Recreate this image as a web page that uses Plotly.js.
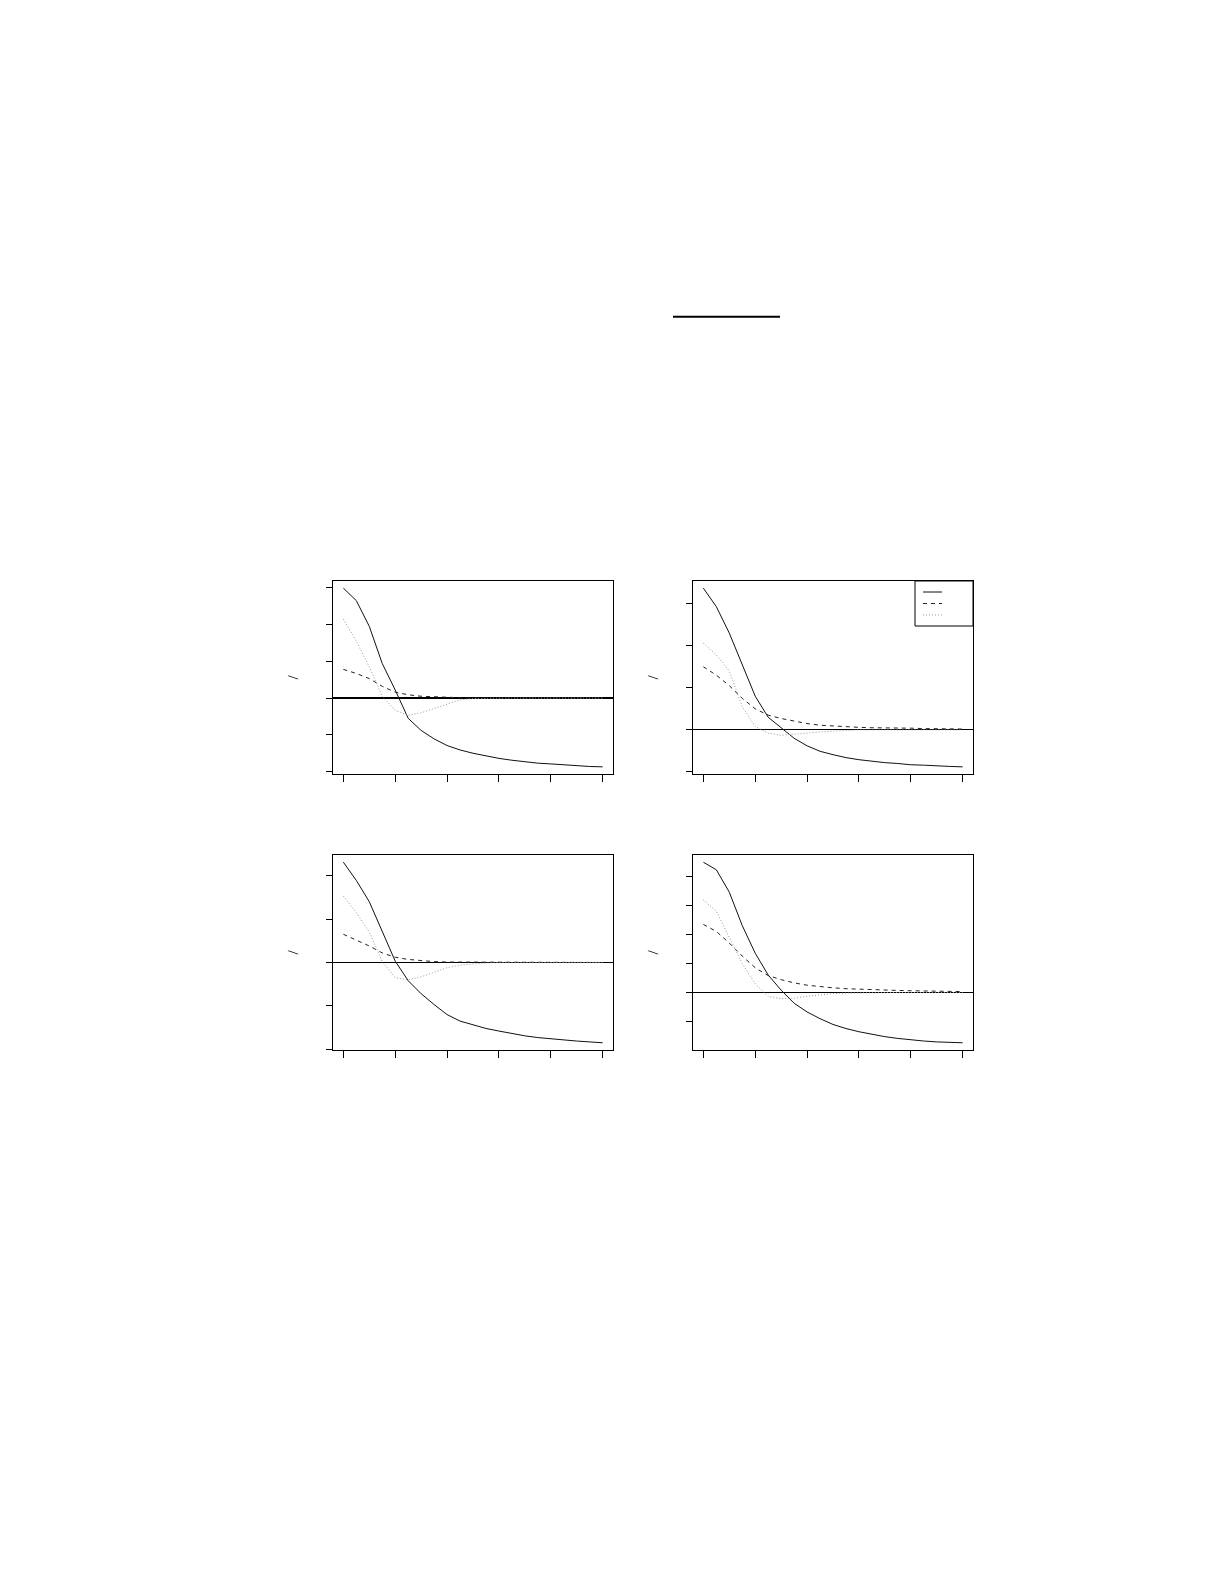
<!DOCTYPE html>
<html><head><meta charset="utf-8">
<script src="https://cdn.plot.ly/plotly-3.0.1.min.js"></script>
<style>body{margin:0;background:#fff} #plot{width:1225px;height:1585px}</style>
</head><body><div id="plot"></div>
<script>
// x positions shared by the four panels
lag=[0,5,10,15,20,25,30,35,40,45,50,55,60,65,70,75,80,85,90,95,100]
xticks=[0,20,40,60,80,100]

// panel a (top left)
a_solid=[2.99,2.65,1.95,0.94,0.22,-0.55,-0.88,-1.11,-1.29,-1.41,-1.50,-1.58,-1.64,-1.69,-1.74,-1.77,-1.79,-1.82,-1.84,-1.86,-1.87]
a_dash=[0.78,0.67,0.53,0.32,0.16,0.09,0.05,0.03,0.01,0.01,0,0,0,0,0,0,0,0,0,0,0]
a_dot=[2.15,1.55,0.85,0.05,-0.33,-0.47,-0.40,-0.28,-0.15,-0.05,-0.01,0,0,0,0,0,0,0,0,0,0]
// panel b (top right)
b_solid=[3.37,2.93,2.30,1.55,0.80,0.30,0.06,-0.20,-0.38,-0.51,-0.59,-0.66,-0.71,-0.75,-0.78,-0.80,-0.83,-0.84,-0.86,-0.87,-0.88]
b_dash=[1.50,1.30,1.05,0.75,0.50,0.35,0.27,0.21,0.15,0.11,0.09,0.07,0.06,0.05,0.05,0.04,0.04,0.03,0.03,0.02,0.02]
b_dot=[2.06,1.78,1.40,0.55,0.08,-0.08,-0.13,-0.10,-0.07,-0.05,-0.03,-0.01,0,0,0,0,0,0,0,0,0]
// panel c (bottom left)
c_solid=[2.31,1.89,1.40,0.70,0.03,-0.42,-0.72,-0.97,-1.20,-1.35,-1.44,-1.52,-1.58,-1.64,-1.69,-1.73,-1.76,-1.79,-1.81,-1.83,-1.85]
c_dash=[0.65,0.52,0.38,0.22,0.12,0.07,0.04,0.02,0.01,0.01,0.01,0,0,0,0,0,0,0,0,0,0]
c_dot=[1.53,1.15,0.70,0.02,-0.35,-0.40,-0.33,-0.22,-0.12,-0.06,-0.03,-0.01,0,0,0,0,0,0,0,0,0]
// panel d (bottom right)
d_solid=[4.48,4.22,3.45,2.30,1.35,0.60,0.08,-0.37,-0.67,-0.90,-1.10,-1.24,-1.35,-1.44,-1.52,-1.58,-1.63,-1.67,-1.70,-1.71,-1.73]
d_dash=[2.34,2.10,1.70,1.25,0.85,0.58,0.44,0.33,0.25,0.20,0.16,0.13,0.11,0.09,0.08,0.07,0.06,0.05,0.04,0.04,0.03]
d_dot=[3.18,2.80,1.90,1.00,0.30,-0.14,-0.21,-0.20,-0.13,-0.08,-0.04,-0.02,-0.01,0,0,0,0,0,0,0,0]

W=1225, H=1585
// plot boxes in page pixels: [left,right,top,bottom]
boxes=[[333,613,581,774],[693,973,581,774],[333,613,855,1050],[693,973,855,1050]]
panels=[[a_solid,a_dash,a_dot],[b_solid,b_dash,b_dot],[c_solid,c_dash,c_dot],[d_solid,d_dash,d_dot]]
styles=[{color:'#111',width:1,dash:'solid'},{color:'#222',width:1,dash:'4px,4px'},{color:'#999',width:1,dash:'1px,2px'}]

// R-style 4% padding around the data
function pad(lo,hi){ d=(hi-lo)*0.04; return [lo-d,hi+d] }
function px(x){ return x/W }; function py(y){ return 1-y/H }

traces=[]; layout={width:W,height:H,margin:{l:0,r:0,t:0,b:0},paper_bgcolor:'#fff',plot_bgcolor:'#fff',showlegend:false,
  // fraction bar left over from the heading
  shapes:[{type:'line',xref:'paper',yref:'paper',x0:px(673),x1:px(780),y0:py(316.7),y1:py(316.7),line:{color:'#000',width:2}}]}

// key in the top right panel, drawn R-style (small box, no labels)
b=boxes[1]
layout.shapes.push({type:'rect',xref:'paper',yref:'paper',x0:px(b[1]-58),x1:px(b[1]),y0:py(b[2]+45),y1:py(b[2]),
  line:{color:'#000',width:1},fillcolor:'#fff'})
styles.forEach(function(s,j){
  yy=b[2]+11+j*11.5
  layout.shapes.push({type:'line',xref:'paper',yref:'paper',x0:px(b[1]-50),x1:px(b[1]-31),y0:py(yy),y1:py(yy),line:s})
})

panels.forEach(function(p,n){
  b=boxes[n]; k=n==0?'':(n+1)
  all=p[0].concat(p[1],p[2])
  p.forEach(function(ys,j){
    traces.push({x:lag,y:ys,type:'scatter',mode:'lines',line:styles[j],xaxis:'x'+k,yaxis:'y'+k,hoverinfo:'skip'})
  })
  ax={domain:[px(b[0]),px(b[1])],range:pad(0,100),tickvals:xticks,ticks:'outside',ticklen:7,tickcolor:'#000',
    showticklabels:false,showgrid:false,zeroline:false,showline:true,mirror:true,linecolor:'#000',linewidth:1,anchor:'y'+k}
  ay={domain:[py(b[3]),py(b[2])],range:pad(Math.min.apply(null,all),Math.max.apply(null,all)),tick0:0,dtick:1,
    ticks:'outside',ticklen:6,tickcolor:'#000',showticklabels:false,showgrid:false,
    zeroline:true,zerolinecolor:'#000',zerolinewidth:1.3,showline:true,mirror:true,linecolor:'#000',linewidth:1,anchor:'x'+k,
    title:{text:'/',font:{family:'Liberation Serif',size:15,color:'#000'},standoff:23}}
  layout['xaxis'+k]=ax; layout['yaxis'+k]=ay
})

Plotly.newPlot('plot',traces,layout,{staticPlot:true})
</script></body></html>
